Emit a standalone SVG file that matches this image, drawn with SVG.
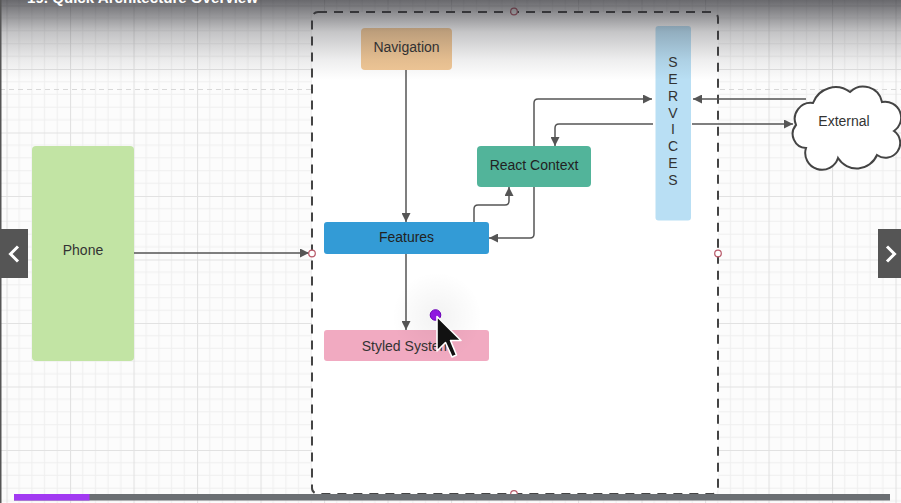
<svg xmlns="http://www.w3.org/2000/svg" width="901" height="503" viewBox="0 0 901 503">
<defs>
<style>
.lbl{font-family:"Liberation Sans",Arial,sans-serif;font-size:14px;fill:#333;text-anchor:middle;dominant-baseline:central}
.node{stroke:none}
.conn{fill:none;stroke:#555;stroke-width:1.5}
.pt{fill:#fff;stroke:#b85a6a;stroke-width:1.2}
</style>
<pattern id="grid" x="6.5" y="5.5" width="63.5" height="63.5" patternUnits="userSpaceOnUse">
<rect width="63.5" height="63.5" fill="#fcfcfc"/>
<path d="M12.7 0V63.5M25.4 0V63.5M38.1 0V63.5M50.8 0V63.5M0 12.7H63.5M0 25.4H63.5M0 38.1H63.5M0 50.8H63.5" stroke="#efefef" stroke-width="1"/>
<path d="M0.5 0V63.5M0 0.5H63.5" stroke="#e2e2e2" stroke-width="1.2"/>
</pattern>
<linearGradient id="shade" x1="0" y1="0" x2="0" y2="1">
<stop offset="0" stop-color="#2a2a30" stop-opacity="0.7"/>
<stop offset="0.19" stop-color="#2a2a30" stop-opacity="0.5"/>
<stop offset="0.4" stop-color="#2a2a30" stop-opacity="0.27"/>
<stop offset="0.75" stop-color="#2a2a30" stop-opacity="0.08"/>
<stop offset="1" stop-color="#2a2a30" stop-opacity="0"/>
</linearGradient>
<radialGradient id="halo" cx="0.5" cy="0.5" r="0.5">
<stop offset="0" stop-color="#000" stop-opacity="0.05"/>
<stop offset="1" stop-color="#000" stop-opacity="0"/>
</radialGradient>
<marker id="arr" viewBox="0 0 10 10" refX="10" refY="5" markerWidth="10" markerHeight="9" markerUnits="userSpaceOnUse" orient="auto">
<path d="M0 0L10 5L0 10Z" fill="#555"/>
</marker>
</defs>

<rect width="901" height="503" fill="url(#grid)"/>
<line x1="0" y1="89.5" x2="901" y2="89.5" stroke="#d8d8d8" stroke-width="1" stroke-dasharray="5 4"/>

<g id="container">
<rect x="312" y="12" width="406" height="482" rx="6" fill="#fff" stroke="#444" stroke-width="2" stroke-dasharray="9 7"/>
</g>

<g id="connectors">
<path class="conn" d="M406 70V222" marker-end="url(#arr)"/>
<path class="conn" d="M406 254V330" marker-end="url(#arr)"/>
<path class="conn" d="M134 253H309" marker-end="url(#arr)"/>
<path class="conn" d="M474 222V209Q474 205 478 205H505Q509 205 509 201V187" marker-end="url(#arr)"/>
<path class="conn" d="M534 187V234Q534 238 530 238H489" marker-end="url(#arr)"/>
<path class="conn" d="M534 146V103Q534 99 538 99H652" marker-end="url(#arr)"/>
<path class="conn" d="M653 124H559Q555 124 555 128V146" marker-end="url(#arr)"/>
<path class="conn" d="M806 99H693" marker-end="url(#arr)"/>
<path class="conn" d="M692 124H793" marker-end="url(#arr)"/>
</g>

<g id="navigation">
<rect class="node" x="361" y="28" width="91" height="42" rx="4" fill="#f4ca98"/>
<text class="lbl" x="406.5" y="47">Navigation</text>
</g>

<g id="services">
<rect class="node" x="655.5" y="26" width="35.5" height="194.5" rx="3" fill="#b9dff4"/>
<text class="lbl" x="673" y="62">S</text>
<text class="lbl" x="673" y="79">E</text>
<text class="lbl" x="673" y="96">R</text>
<text class="lbl" x="673" y="112.5">V</text>
<text class="lbl" x="673" y="129">I</text>
<text class="lbl" x="673" y="146">C</text>
<text class="lbl" x="673" y="163">E</text>
<text class="lbl" x="673" y="180">S</text>
</g>

<g id="external">
<path d="M806 148A14 14 0 0 1 796 125A16 16 0 0 1 813 103A24 24 0 0 1 850 92A19 19 0 0 1 882 102A16 16 0 0 1 894 131A14 14 0 0 1 877 155A22 22 0 0 1 838 158A16 16 0 0 1 806 148Z" fill="#fff" stroke="#444" stroke-width="2"/>
<text class="lbl" x="844" y="121">External</text>
</g>

<g id="react-context">
<rect class="node" x="477" y="146" width="114" height="41" rx="4" fill="#52b49a"/>
<text class="lbl" x="534" y="165" style="fill:#222">React Context</text>
</g>

<g id="features">
<rect class="node" x="324" y="222" width="165" height="32" rx="3" fill="#339bd6"/>
<text class="lbl" x="406.5" y="237" style="fill:#222">Features</text>
</g>

<g id="styled-system">
<rect class="node" x="324" y="330" width="165" height="31" rx="3" fill="#f1aac1"/>
<text class="lbl" x="406.5" y="345.5">Styled System</text>
</g>

<g id="phone">
<rect class="node" x="32" y="146" width="102" height="215" rx="4" fill="#c2e4a4"/>
<text class="lbl" x="83" y="250">Phone</text>
</g>

<g id="handles">
<circle class="pt" cx="514" cy="11.5" r="3.3"/>
<circle class="pt" cx="312" cy="253.5" r="3.3"/>
<circle class="pt" cx="718" cy="253.5" r="3.3"/>
<circle class="pt" cx="514" cy="494" r="3.3"/>
</g>

<g id="cursor">
<circle cx="437" cy="317" r="45" fill="url(#halo)"/>
<circle cx="435.5" cy="315" r="5.3" fill="#8f17e0" stroke="#6b00b8" stroke-width="1"/>
<path d="M437 316.5V351L445.5 342.5L452 357L456.5 355L450.5 340.5H461Z" fill="#111" stroke="#fff" stroke-width="1.6" stroke-linejoin="round"/>
</g>

<rect x="0" y="0" width="901" height="80" fill="url(#shade)"/>
<text x="27" y="2.5" font-family="Liberation Sans,Arial,sans-serif" font-size="15" font-weight="bold" fill="#fff" textLength="231" lengthAdjust="spacingAndGlyphs">19. Quick Architecture Overview</text>

<rect x="0" y="0" width="1.5" height="503" fill="#555"/>

<g id="prev-button">
<rect x="0" y="229" width="28" height="49" fill="#555"/>
<polyline points="18,246.5 10.5,254 18,261.5" fill="none" stroke="#fff" stroke-width="3"/>
</g>
<g id="next-button">
<rect x="878" y="229" width="23" height="49" fill="#555"/>
<polyline points="887,246.5 894.5,254 887,261.5" fill="none" stroke="#fff" stroke-width="3"/>
</g>

<g id="progress">
<rect x="14" y="494" width="876" height="6.5" fill="#6b6f73"/>
<rect x="14" y="494" width="75.5" height="6.5" fill="#a23af2"/>
</g>
</svg>
